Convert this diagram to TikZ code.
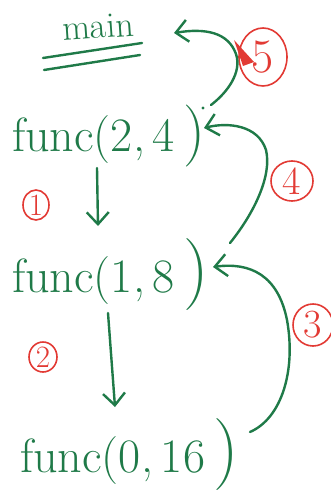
\documentclass[tikz,border=0pt]{standalone}
\usetikzlibrary{arrows.meta,shapes.geometric}
\definecolor{pen}{HTML}{1F7A48}
\definecolor{redpen}{HTML}{E23A34}
\newcommand{\bigpar}[1]{{\fontsize{#1}{#1}\selectfont)}}
\begin{document}
\begin{tikzpicture}[x=1pt,y=-1pt,
  ink/.style={draw=pen,line width=2.4pt,line cap=round,line join=round},
  arr/.style={ink,-{Straight Barb[length=12pt,width=22pt,line width=2.4pt]}},
  num/.style={draw=redpen,line width=1.6pt,ellipse,text=redpen,inner sep=0pt},
  call/.style={text=pen,inner sep=0pt,anchor=base west,font=\fontsize{48}{48}\selectfont}]
\useasboundingbox (0,0) rectangle (331,502);
% main
\node[text=pen,inner sep=0pt,font=\fontsize{36}{36}\selectfont,rotate=4] (main) at (98,27) {main};
\draw[ink] (43,58) -- (142,43);
\draw[ink] (44,70) -- (140,55);
% calls
\node[call] (f24) at (12,152) {func(2,\,4\,\bigpar{62}};
\node[call] (f18) at (12,292) {func(1,\,8\,\bigpar{72}};
\node[call] (f016) at (20,472) {func(0,\,16\,\bigpar{72}};
% step numbers
\node[num,minimum width=48pt,minimum height=58pt,font=\fontsize{48}{48}\selectfont] (n5) at (263,57) {5};
\node[num,minimum width=42pt,minimum height=40pt,font=\fontsize{40}{40}\selectfont] (n4) at (292,181) {4};
\node[num,minimum width=40pt,minimum height=42pt,font=\fontsize{40}{40}\selectfont] (n3) at (313,325) {3};
\node[num,minimum width=26pt,minimum height=30pt,font=\fontsize{31}{31}\selectfont] (n1) at (36,205) {1};
\node[num,minimum width=28pt,minimum height=30pt,font=\fontsize{31}{31}\selectfont] (n2) at (43,357) {2};
% cursor
\fill[redpen] (234,40) -- (254,62) -- (243,66) -- cycle;
% dot
\fill[pen] (203,108) circle (1.6pt);
% connectors
\coordinate (a1s) at (97,168); \coordinate (a1e) at (98,226);
\draw[arr] (a1s) -- (a1e);
\coordinate (a2s) at (108,313); \coordinate (a2e) at (115,407);
\draw[arr] (a2s) -- (a2e);
\coordinate (c5s) at (211,105); \coordinate (c5m) at (236,54); \coordinate (c5e) at (174,33);
\draw[arr] (c5s) .. controls (228,92) and (242,72) .. (c5m) .. controls (228,32) and (205,28) .. (c5e);
\coordinate (c4s) at (230,243); \coordinate (c4m) at (266,150); \coordinate (c4e) at (204,128);
\draw[arr] (c4s) .. controls (255,212) and (272,175) .. (c4m) .. controls (258,125) and (228,122) .. (c4e);
\coordinate (c3s) at (250,432); \coordinate (c3m) at (287,320); \coordinate (c3e) at (213,267);
\draw[arr] (c3s) .. controls (282,418) and (296,370) .. (c3m) .. controls (278,275) and (250,262) .. (c3e);
\end{tikzpicture}
\end{document}
